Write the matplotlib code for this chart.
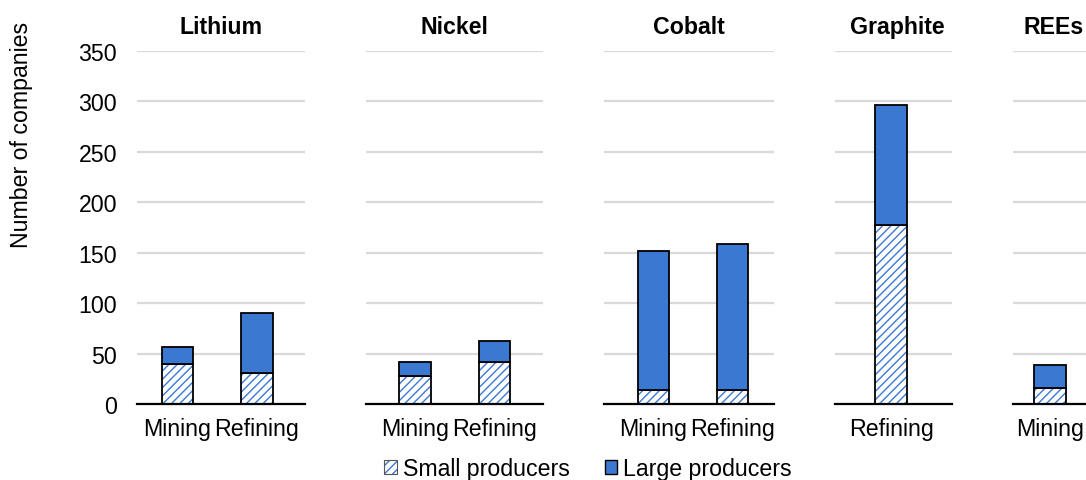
import matplotlib
matplotlib.use("Agg")
import matplotlib.pyplot as plt
from matplotlib.patches import Patch

plt.rcParams['font.family'] = ['Liberation Sans', 'DejaVu Sans']
plt.rcParams['hatch.linewidth'] = 1.0

# Data: number of companies by mineral and supply-chain stage
minerals = ["Lithium", "Nickel", "Cobalt", "Graphite", "REEs"]
stages = [["Mining", "Refining"], ["Mining", "Refining"], ["Mining", "Refining"],
          ["Refining"], ["Mining"]]
small_producers = [[40, 31], [28, 42], [14, 14], [177], [16]]
large_producers = [[17, 59], [14, 20], [138, 145], [119], [23]]

y_ticks = [0, 50, 100, 150, 200, 250, 300, 350]

BLUE = "#3b78d1"
GRID = "#d9d9d9"
W, H = 1086, 481
FS = 16.7

# panel layout in pixels: (left, right), x-limits in category units, title x (axes fraction)
panels = [
    ((137, 305), (-0.51, 1.604), 0.5),
    ((366, 543), (-0.616, 1.61), 0.5),
    ((604, 774), (-0.627, 1.525), 0.5),
    ((835, 952), (-0.708, 0.764), 0.53),
    ((1013, 1130), (-0.465, 1.007), 0.345),
]
y_top_px, y_bot_px = 52, 405

fig = plt.figure(figsize=(W / 100, H / 100), dpi=100)
bar_w = 0.4
HATCH = "////"

for i, (name, cats, small, large) in enumerate(zip(minerals, stages, small_producers, large_producers)):
    (lpx, rpx), xlim, tx = panels[i]
    ax = fig.add_axes([lpx / W, 1 - y_bot_px / H, (rpx - lpx) / W, (y_bot_px - y_top_px) / H])
    x = list(range(len(cats)))
    # hatched lower segment (blue hatch on white), then black outline
    ax.bar(x, small, width=bar_w, color="white", hatch=HATCH, edgecolor=BLUE,
           linewidth=0, zorder=3)
    ax.bar(x, small, width=bar_w, fill=False, edgecolor="black", linewidth=1.3, zorder=4)
    ax.bar(x, large, width=bar_w, bottom=small, color=BLUE, edgecolor="black",
           linewidth=1.3, zorder=4)
    ax.set_xlim(*xlim)
    ax.set_ylim(0, 350)
    ax.set_yticks(y_ticks)
    ax.yaxis.grid(True, color=GRID, linewidth=1.6, zorder=0)
    ax.set_axisbelow(True)
    for s in ["top", "right", "left"]:
        ax.spines[s].set_visible(False)
    ax.spines["bottom"].set_linewidth(1.6)
    ax.spines["bottom"].set_zorder(5)
    ax.set_xticks(x)
    ax.set_xticklabels(cats, fontsize=FS)
    ax.tick_params(axis="x", length=0, pad=9.5)
    ax.tick_params(axis="y", length=0, pad=14.4, labelsize=FS)
    if i > 0:
        ax.set_yticklabels([])
    t = ax.set_title(name, fontsize=FS, fontweight="bold", pad=13)
    t.set_x(tx)

fig.text(22 / W, 1 - 135 / H, "Number of companies", rotation=90, fontsize=FS,
         ha="center", va="center")

small_handle = (
    Patch(facecolor="white", edgecolor=BLUE, hatch=HATCH, linewidth=0),
    Patch(fill=False, edgecolor="#555555", linewidth=0.8),
)
large_handle = Patch(facecolor=BLUE, edgecolor="black", linewidth=1.0)
fig.legend([small_handle, large_handle], ["Small producers", "Large producers"],
           loc="center", bbox_to_anchor=(588 / W, 1 - 470 / H), ncol=2, frameon=False,
           fontsize=FS, handlelength=0.55, handleheight=0.55, handletextpad=0.25,
           columnspacing=1.5, borderpad=0.1)

fig.savefig("out.png", dpi=100)
